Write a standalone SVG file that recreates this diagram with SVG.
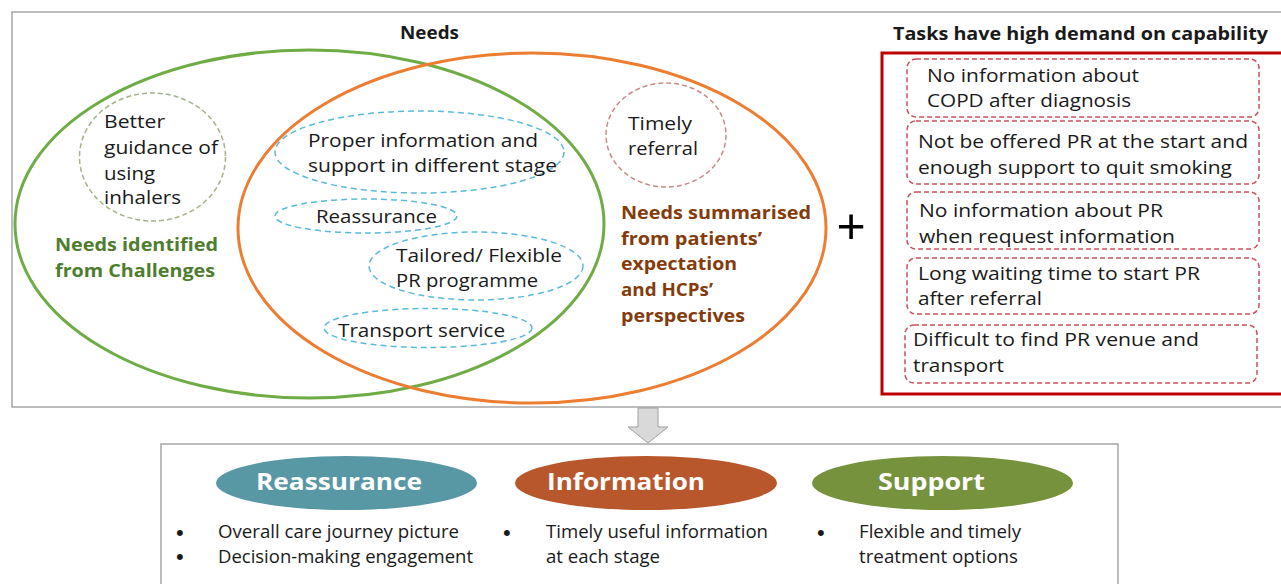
<svg xmlns="http://www.w3.org/2000/svg" width="1281" height="584" viewBox="0 0 1281 584">
<style>
.t{font-family:"Open Sans","Noto Sans","Liberation Sans",sans-serif;font-size:18px;fill:#1a1a1a}
.b{font-weight:700}
.frame{fill:#fff;stroke:#a6a6a6;stroke-width:1.5}
.blue{fill:none;stroke:#5bbad9;stroke-width:1.5;stroke-dasharray:6 4}
.task{fill:none;stroke:#c8505a;stroke-width:1.5;stroke-dasharray:5 3}
.bw{font-size:24px;font-weight:700;fill:#fff}
.gr{fill:#4e7d2e}
.br{fill:#843c0c}
.bul{font-family:"Liberation Sans",sans-serif;font-size:22px;fill:#1a1a1a}
</style>
<rect id="needs-frame" class="frame" x="12" y="12" width="1290" height="395"/>
<g id="needs-title"><text class="t b" x="400" y="39" textLength="59" lengthAdjust="spacingAndGlyphs">Needs</text></g>
<g id="challenges-set">
<ellipse cx="309.5" cy="224" rx="294.5" ry="174" fill="none" stroke="#6fac46" stroke-width="3"/>
<text class="t b gr" x="55" y="251" textLength="163" lengthAdjust="spacingAndGlyphs">Needs identified</text>
<text class="t b gr" x="55" y="277" textLength="160" lengthAdjust="spacingAndGlyphs">from Challenges</text>
</g>
<g id="expectation-set">
<ellipse cx="532" cy="228" rx="294" ry="175" fill="none" stroke="#ed7d31" stroke-width="3"/>
<text class="t b br" x="621" y="219" textLength="190" lengthAdjust="spacingAndGlyphs">Needs summarised</text>
<text class="t b br" x="621" y="245" textLength="141" lengthAdjust="spacingAndGlyphs">from patients’</text>
<text class="t b br" x="621" y="270" textLength="116" lengthAdjust="spacingAndGlyphs">expectation</text>
<text class="t b br" x="621" y="296" textLength="92" lengthAdjust="spacingAndGlyphs">and HCPs’</text>
<text class="t b br" x="621" y="322" textLength="124" lengthAdjust="spacingAndGlyphs">perspectives</text>
</g>
<g id="better-guidance">
<ellipse cx="152.5" cy="157" rx="73" ry="64" fill="none" stroke="#a3b38a" stroke-width="1.5" stroke-dasharray="5 3"/>
<text class="t" x="104" y="128" textLength="61" lengthAdjust="spacingAndGlyphs">Better</text>
<text class="t" x="104" y="154" textLength="114" lengthAdjust="spacingAndGlyphs">guidance of</text>
<text class="t" x="104" y="180" textLength="51" lengthAdjust="spacingAndGlyphs">using</text>
<text class="t" x="104" y="204" textLength="77" lengthAdjust="spacingAndGlyphs">inhalers</text>
</g>
<g id="proper-information">
<ellipse class="blue" cx="419.5" cy="152" rx="144.5" ry="41"/>
<text class="t" x="308" y="147" textLength="230" lengthAdjust="spacingAndGlyphs">Proper information and</text>
<text class="t" x="308" y="172" textLength="249" lengthAdjust="spacingAndGlyphs">support in different stage</text>
</g>
<g id="reassurance-need">
<ellipse class="blue" cx="366" cy="216" rx="91" ry="17"/>
<text class="t" x="316" y="223" textLength="121" lengthAdjust="spacingAndGlyphs">Reassurance</text>
</g>
<g id="tailored-pr">
<ellipse class="blue" cx="476" cy="266" rx="107" ry="34"/>
<text class="t" x="396" y="262" textLength="166" lengthAdjust="spacingAndGlyphs">Tailored/ Flexible</text>
<text class="t" x="396" y="287" textLength="142" lengthAdjust="spacingAndGlyphs">PR programme</text>
</g>
<g id="transport-service">
<ellipse class="blue" cx="428" cy="328" rx="104" ry="19.5"/>
<text class="t" x="338" y="337" textLength="167" lengthAdjust="spacingAndGlyphs">Transport service</text>
</g>
<g id="timely-referral">
<ellipse cx="666" cy="135" rx="60" ry="52" fill="none" stroke="#c88a88" stroke-width="1.5" stroke-dasharray="5 3"/>
<text class="t" x="628" y="130" textLength="64" lengthAdjust="spacingAndGlyphs">Timely</text>
<text class="t" x="628" y="155" textLength="70" lengthAdjust="spacingAndGlyphs">referral</text>
</g>
<g id="plus"><text x="851" y="243" text-anchor="middle" style="font-family:'Liberation Sans',sans-serif;font-size:50px;fill:#000">+</text></g>
<g id="tasks">
<text class="t b" x="893" y="40" textLength="375" lengthAdjust="spacingAndGlyphs">Tasks have high demand on capability</text>
<rect x="882" y="53" width="420" height="341" fill="none" stroke="#c00000" stroke-width="3"/>
</g>
<g id="task-1">
<rect class="task" x="907" y="59" width="352" height="58" rx="9"/>
<text class="t" x="927" y="82" textLength="212" lengthAdjust="spacingAndGlyphs">No information about</text>
<text class="t" x="927" y="107" textLength="204" lengthAdjust="spacingAndGlyphs">COPD after diagnosis</text>
</g>
<g id="task-2">
<rect class="task" x="907" y="121" width="352" height="63" rx="9"/>
<text class="t" x="918" y="148" textLength="330" lengthAdjust="spacingAndGlyphs">Not be offered PR at the start and</text>
<text class="t" x="918" y="174" textLength="314" lengthAdjust="spacingAndGlyphs">enough support to quit smoking</text>
</g>
<g id="task-3">
<rect class="task" x="907" y="192" width="352" height="57" rx="9"/>
<text class="t" x="919" y="217" textLength="244" lengthAdjust="spacingAndGlyphs">No information about PR</text>
<text class="t" x="919" y="243" textLength="256" lengthAdjust="spacingAndGlyphs">when request information</text>
</g>
<g id="task-4">
<rect class="task" x="907" y="258" width="352" height="56" rx="9"/>
<text class="t" x="918" y="280" textLength="282" lengthAdjust="spacingAndGlyphs">Long waiting time to start PR</text>
<text class="t" x="918" y="305" textLength="124" lengthAdjust="spacingAndGlyphs">after referral</text>
</g>
<g id="task-5">
<rect class="task" x="905" y="325" width="352" height="58" rx="9"/>
<text class="t" x="913" y="346" textLength="286" lengthAdjust="spacingAndGlyphs">Difficult to find PR venue and</text>
<text class="t" x="913" y="372" textLength="91" lengthAdjust="spacingAndGlyphs">transport</text>
</g>
<g id="connectors">
<polygon points="638,408 658,408 658,427 668,427 648,443 628,427 638,427" fill="#d9d9d9" stroke="#a0a0a0" stroke-width="1"/>
</g>
<rect id="outcome-frame" class="frame" x="161" y="444" width="957" height="160"/>
<g id="reassurance">
<ellipse cx="346.5" cy="483" rx="130.5" ry="27" fill="#5897a4"/>
<text class="t bw" x="256" y="490" textLength="166" lengthAdjust="spacingAndGlyphs">Reassurance</text>
<text class="bul" x="176" y="540">•</text>
<text class="bul" x="176" y="564">•</text>
<text class="t" x="218" y="538" textLength="241" lengthAdjust="spacingAndGlyphs">Overall care journey picture</text>
<text class="t" x="218" y="563" textLength="255" lengthAdjust="spacingAndGlyphs">Decision-making engagement</text>
</g>
<g id="information">
<ellipse cx="646" cy="483" rx="131" ry="27" fill="#b9572c"/>
<text class="t bw" x="547" y="490" textLength="158" lengthAdjust="spacingAndGlyphs">Information</text>
<text class="bul" x="503" y="540">•</text>
<text class="t" x="546" y="538" textLength="222" lengthAdjust="spacingAndGlyphs">Timely useful information</text>
<text class="t" x="546" y="563" textLength="114" lengthAdjust="spacingAndGlyphs">at each stage</text>
</g>
<g id="support">
<ellipse cx="942.5" cy="483" rx="130.5" ry="27" fill="#76923c"/>
<text class="t bw" x="878" y="490" textLength="107" lengthAdjust="spacingAndGlyphs">Support</text>
<text class="bul" x="817" y="540">•</text>
<text class="t" x="859" y="538" textLength="162" lengthAdjust="spacingAndGlyphs">Flexible and timely</text>
<text class="t" x="859" y="563" textLength="159" lengthAdjust="spacingAndGlyphs">treatment options</text>
</g>
</svg>
